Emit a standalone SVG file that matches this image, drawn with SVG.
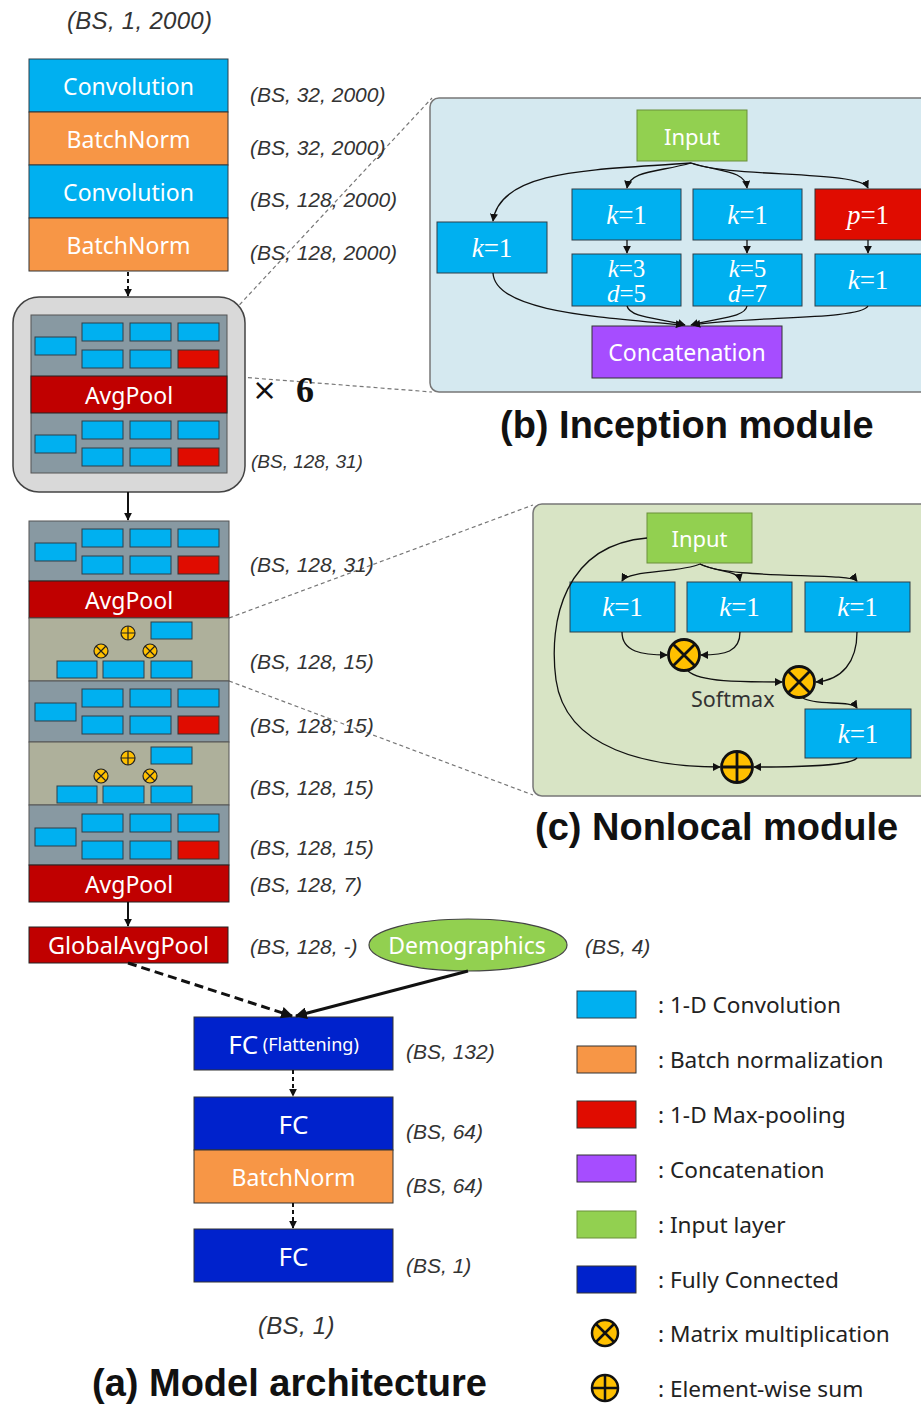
<svg xmlns="http://www.w3.org/2000/svg" xmlns:xlink="http://www.w3.org/1999/xlink" width="921" height="1404" viewBox="0 0 921 1404">
  <style>
    .lbl { font-family: "Liberation Sans", Arial, sans-serif; font-style: italic; font-size: 21px; fill: #333; }
    .lblBig { font-size: 24px; letter-spacing: 0.3px; }
    .lblSm { font-size: 19px; }
    .bt { font-family: "Noto Sans", "Liberation Sans", sans-serif; fill: #fff; text-anchor: middle; dominant-baseline: central; font-size: 23px; }
    .kt { font-family: "Liberation Serif", serif; fill: #fff; text-anchor: middle; dominant-baseline: central; font-size: 27px; }
    .kt2 { font-size: 25px; }
    .title { font-family: "Liberation Sans", Arial, sans-serif; font-weight: bold; font-size: 38px; fill: #111; }
    .leg { font-family: "Noto Sans", "Liberation Sans", sans-serif; font-size: 22.6px; fill: #222; dominant-baseline: central; }
    .conv { fill: #00b0f0; stroke: #2e3f48; stroke-width: 1; }
    .bn { fill: #f79646; stroke: #333; stroke-width: 1; }
    .mp { fill: #e00c00; stroke: #333; stroke-width: 1; }
    .avg { fill: #c00000; stroke: #222; stroke-width: 1; }
    .fc { fill: #0022cc; stroke: #333; stroke-width: 1; }
    .inp { fill: #92d050; stroke: #6a8f3a; stroke-width: 1; }
    .cat { fill: #a64dff; stroke: #333; stroke-width: 1; }
    .incbg { fill: #8899a2; stroke: #555; stroke-width: 1; }
    .nlbg { fill: #aeb09b; stroke: #555; stroke-width: 1; }
    .op { fill: #ffc000; stroke: #111; stroke-width: 2.8; }
    .opx { stroke: #111; stroke-width: 2.8; }
    .opL { fill: #ffc000; stroke: #111; stroke-width: 2.5; }
    .opLx { stroke: #111; stroke-width: 2.5; }
    .opS { fill: #ffc000; stroke: #222; stroke-width: 1.2; }
    .opSx { stroke: #222; stroke-width: 1.2; }
    .wire { fill: none; stroke: #111; stroke-width: 1.3; }
    .zoom { fill: none; stroke: #777; stroke-width: 1.2; stroke-dasharray: 4 3; }
  </style>
  <defs>
    <marker id="ah" viewBox="0 0 10 10" refX="9" refY="5" markerWidth="8" markerHeight="8" markerUnits="userSpaceOnUse" orient="auto">
      <path d="M0,0 L10,5 L0,10 z" fill="#111"/>
    </marker>
    <marker id="ahBig" viewBox="0 0 10 10" refX="9" refY="5" markerWidth="12" markerHeight="12" markerUnits="userSpaceOnUse" orient="auto">
      <path d="M0,0 L10,5 L0,10 z" fill="#111"/>
    </marker>
    <!-- small inception glyph: three branches of convolutions + max-pool -->
    <g id="incBlocks">
      <rect class="conv" x="35" y="22" width="41" height="18"/>
      <rect class="conv" x="82" y="8" width="41" height="18"/>
      <rect class="conv" x="130" y="8" width="41" height="18"/>
      <rect class="conv" x="178" y="8" width="41" height="18"/>
      <rect class="conv" x="82" y="35" width="41" height="18"/>
      <rect class="conv" x="130" y="35" width="41" height="18"/>
      <rect class="mp" x="178" y="35" width="41" height="18"/>
    </g>
    <!-- small nonlocal glyph -->
    <g id="nlBlocks">
      <rect class="conv" x="151" y="4" width="41" height="17"/>
      <rect class="conv" x="57" y="43" width="40" height="17"/>
      <rect class="conv" x="103" y="43" width="41" height="17"/>
      <rect class="conv" x="151" y="43" width="41" height="17"/>
      <circle class="opS" cx="128" cy="15" r="7"/>
      <path class="opSx" d="M121,15 H135 M128,8 V22"/>
      <circle class="opS" cx="101" cy="33" r="7"/>
      <path class="opSx" d="M96,28 L106,38 M106,28 L96,38"/>
      <circle class="opS" cx="150" cy="33" r="7"/>
      <path class="opSx" d="M145,28 L155,38 M155,28 L145,38"/>
    </g>
  </defs>

  <rect x="0" y="0" width="921" height="1404" fill="#fff"/>

  <!-- zoom guide lines -->
  <g id="guides">
    <line class="zoom" x1="230" y1="315" x2="432" y2="98"/>
    <line class="zoom" x1="227" y1="376" x2="432" y2="392"/>
    <line class="zoom" x1="229" y1="618" x2="533" y2="505"/>
    <line class="zoom" x1="229" y1="681" x2="533" y2="795"/>
  </g>

  <!-- (a) model architecture: stem -->
  <g id="conv1"><rect class="conv" x="29" y="59" width="199" height="53"/><text class="bt" x="128.5" y="86">Convolution</text></g>
  <g id="bn1"><rect class="bn" x="29" y="112" width="199" height="53"/><text class="bt" x="128.5" y="139">BatchNorm</text></g>
  <g id="conv2"><rect class="conv" x="29" y="165" width="199" height="53"/><text class="bt" x="128.5" y="192">Convolution</text></g>
  <g id="bn2"><rect class="bn" x="29" y="218" width="199" height="53"/><text class="bt" x="128.5" y="245">BatchNorm</text></g>

  <!-- repeated block x6 -->
  <g id="repeat6">
    <rect x="13" y="297" width="232" height="195" rx="26" fill="#d9d9d9" stroke="#444" stroke-width="1.5"/>
    <rect class="incbg" x="31" y="315" width="196" height="158"/>
    <use xlink:href="#incBlocks" href="#incBlocks" transform="translate(0,315)"/>
    <rect class="avg" x="31" y="376" width="196" height="37"/>
    <text class="bt" x="129" y="395">AvgPool</text>
    <use xlink:href="#incBlocks" href="#incBlocks" transform="translate(0,413)"/>
    <text x="252" y="400" font-family="DejaVu Sans, sans-serif" font-size="30" fill="#111">×</text>
    <text x="296" y="402" font-family="Liberation Serif, serif" font-weight="bold" font-size="36" fill="#111">6</text>
  </g>

  <!-- tail of the feature extractor -->
  <g id="inc7"><rect class="incbg" x="29" y="521" width="200" height="60"/><use xlink:href="#incBlocks" href="#incBlocks" transform="translate(0,521)"/></g>
  <g id="avg1"><rect class="avg" x="29" y="581" width="200" height="37"/><text class="bt" x="129" y="600">AvgPool</text></g>
  <g id="nl1"><rect class="nlbg" x="29" y="618" width="200" height="63"/><use xlink:href="#nlBlocks" href="#nlBlocks" transform="translate(0,618)"/></g>
  <g id="inc8"><rect class="incbg" x="29" y="681" width="200" height="61"/><use xlink:href="#incBlocks" href="#incBlocks" transform="translate(0,681)"/></g>
  <g id="nl2"><rect class="nlbg" x="29" y="742" width="200" height="63"/><use xlink:href="#nlBlocks" href="#nlBlocks" transform="translate(0,743)"/></g>
  <g id="inc9"><rect class="incbg" x="29" y="805" width="200" height="60"/><use xlink:href="#incBlocks" href="#incBlocks" transform="translate(0,806)"/></g>
  <g id="avg2"><rect class="avg" x="29" y="865" width="200" height="37"/><text class="bt" x="129" y="884">AvgPool</text></g>

  <g id="gap"><rect class="avg" x="29" y="927" width="199" height="36"/><text class="bt" x="128.5" y="945" style="font-size:23.5px">GlobalAvgPool</text></g>
  <g id="demographics"><ellipse cx="468" cy="945" rx="99" ry="26" fill="#92d050" stroke="#444" stroke-width="1.2"/><text class="bt" x="467" y="945">Demographics</text></g>

  <g id="fc1"><rect class="fc" x="194" y="1017" width="199" height="53"/><text class="bt" x="293.5" y="1044"><tspan style="font-size:26px">FC</tspan><tspan style="font-size:18px"> (Flattening)</tspan></text></g>
  <g id="fc2"><rect class="fc" x="194" y="1097" width="199" height="53"/><text class="bt" x="293.5" y="1124" style="font-size:26px">FC</text></g>
  <g id="bn3"><rect class="bn" x="194" y="1150" width="199" height="53"/><text class="bt" x="293.5" y="1177">BatchNorm</text></g>
  <g id="fc3"><rect class="fc" x="194" y="1229" width="199" height="53"/><text class="bt" x="293.5" y="1256" style="font-size:26px">FC</text></g>

  <!-- tensor shapes -->
  <g id="shapes">
    <text class="lbl lblBig" x="67" y="29">(BS, 1, 2000)</text>
    <text class="lbl" x="250" y="102">(BS, 32, 2000)</text>
    <text class="lbl" x="250" y="155">(BS, 32, 2000)</text>
    <text class="lbl" x="250" y="207">(BS, 128, 2000)</text>
    <text class="lbl" x="250" y="260">(BS, 128, 2000)</text>
    <text class="lbl lblSm" x="251" y="468">(BS, 128, 31)</text>
    <text class="lbl" x="250" y="572">(BS, 128, 31)</text>
    <text class="lbl" x="250" y="669">(BS, 128, 15)</text>
    <text class="lbl" x="250" y="733">(BS, 128, 15)</text>
    <text class="lbl" x="250" y="795">(BS, 128, 15)</text>
    <text class="lbl" x="250" y="855">(BS, 128, 15)</text>
    <text class="lbl" x="250" y="892">(BS, 128, 7)</text>
    <text class="lbl" x="250" y="954">(BS, 128, -)</text>
    <text class="lbl" x="585" y="954">(BS, 4)</text>
    <text class="lbl" x="406" y="1059">(BS, 132)</text>
    <text class="lbl" x="406" y="1139">(BS, 64)</text>
    <text class="lbl" x="406" y="1193">(BS, 64)</text>
    <text class="lbl" x="406" y="1273">(BS, 1)</text>
    <text class="lbl lblBig" x="258" y="1334">(BS, 1)</text>
  </g>

  <!-- (b) inception module -->
  <g id="inception">
    <rect x="430" y="98" width="510" height="294" rx="9" fill="#d5e9f0" stroke="#777" stroke-width="1.5"/>
    <g id="inc-input"><rect class="inp" x="637" y="110" width="110" height="51"/><text class="bt" x="692" y="135.5" style="font-size:22px">Input</text></g>
    <g id="inc-b1"><rect class="conv" x="437" y="222" width="110" height="51"/><text class="kt" x="492" y="247.5"><tspan font-style="italic">k</tspan>=1</text></g>
    <g id="inc-b2a"><rect class="conv" x="572" y="189" width="109" height="51"/><text class="kt" x="626.5" y="214.5"><tspan font-style="italic">k</tspan>=1</text></g>
    <g id="inc-b3a"><rect class="conv" x="693" y="189" width="109" height="51"/><text class="kt" x="747.5" y="214.5"><tspan font-style="italic">k</tspan>=1</text></g>
    <g id="inc-b4a"><rect class="mp" x="815" y="189" width="115" height="51"/><text class="kt" x="868" y="214.5"><tspan font-style="italic">p</tspan>=1</text></g>
    <g id="inc-b2b"><rect class="conv" x="572" y="254" width="109" height="52"/><text class="kt kt2" x="626.5" y="268"><tspan font-style="italic">k</tspan>=3</text><text class="kt kt2" x="626.5" y="293"><tspan font-style="italic">d</tspan>=5</text></g>
    <g id="inc-b3b"><rect class="conv" x="693" y="254" width="109" height="52"/><text class="kt kt2" x="747.5" y="268"><tspan font-style="italic">k</tspan>=5</text><text class="kt kt2" x="747.5" y="293"><tspan font-style="italic">d</tspan>=7</text></g>
    <g id="inc-b4b"><rect class="conv" x="815" y="254" width="115" height="52"/><text class="kt" x="868" y="280"><tspan font-style="italic">k</tspan>=1</text></g>
    <g id="inc-concat"><rect class="cat" x="592" y="326" width="190" height="52"/><text class="bt" x="687" y="352">Concatenation</text></g>
  </g>

  <!-- (c) nonlocal module -->
  <g id="nonlocal">
    <rect x="533" y="504" width="400" height="292" rx="9" fill="#d8e4c5" stroke="#777" stroke-width="1.5"/>
    <g id="nl-input"><rect class="inp" x="647" y="513" width="105" height="50"/><text class="bt" x="699.5" y="538" style="font-size:22px">Input</text></g>
    <g id="nl-q"><rect class="conv" x="570" y="582" width="105" height="50"/><text class="kt" x="622.5" y="607"><tspan font-style="italic">k</tspan>=1</text></g>
    <g id="nl-k"><rect class="conv" x="687" y="582" width="105" height="50"/><text class="kt" x="739.5" y="607"><tspan font-style="italic">k</tspan>=1</text></g>
    <g id="nl-v"><rect class="conv" x="805" y="582" width="105" height="50"/><text class="kt" x="857.5" y="607"><tspan font-style="italic">k</tspan>=1</text></g>
    <g id="nl-out"><rect class="conv" x="805" y="709" width="106" height="49"/><text class="kt" x="858" y="733.5"><tspan font-style="italic">k</tspan>=1</text></g>
    <g id="nl-mul1"><circle class="op" cx="684" cy="655" r="15.5"/><path class="opx" d="M673,644 L695,666 M695,644 L673,666"/></g>
    <g id="nl-mul2"><circle class="op" cx="799" cy="682" r="15.5"/><path class="opx" d="M788,671 L810,693 M810,671 L788,693"/></g>
    <g id="nl-sum"><circle class="op" cx="737" cy="767" r="15.5"/><path class="opx" d="M721.5,767 H752.5 M737,751.5 V782.5"/></g>
    <text x="691" y="698" font-family="Noto Sans, Liberation Sans, sans-serif" font-size="21.5" fill="#333" dominant-baseline="central">Softmax</text>
  </g>

  <!-- connectors -->
  <g id="connectors">
    <!-- main trunk -->
    <line x1="128" y1="272" x2="128" y2="296" stroke="#111" stroke-width="2" stroke-dasharray="4 3" marker-end="url(#ah)"/>
    <line x1="128" y1="492" x2="128" y2="520" stroke="#111" stroke-width="2" marker-end="url(#ah)"/>
    <line x1="128" y1="902" x2="128" y2="926" stroke="#111" stroke-width="2" marker-end="url(#ah)"/>
    <line x1="128" y1="963" x2="292" y2="1016" stroke="#111" stroke-width="3" stroke-dasharray="9 5" marker-end="url(#ahBig)"/>
    <line x1="468" y1="971" x2="296" y2="1016" stroke="#111" stroke-width="3" marker-end="url(#ahBig)"/>
    <line x1="293" y1="1070" x2="293" y2="1096" stroke="#111" stroke-width="2" stroke-dasharray="4 3" marker-end="url(#ah)"/>
    <line x1="293" y1="1203" x2="293" y2="1228" stroke="#111" stroke-width="2" stroke-dasharray="4 3" marker-end="url(#ah)"/>

    <!-- inception module wiring -->
    <path class="wire" d="M691,163 C600,170 500,168 493,221" marker-end="url(#ah)"/>
    <path class="wire" d="M691,163 C660,172 630,170 627,188" marker-end="url(#ah)"/>
    <path class="wire" d="M691,163 C720,172 745,170 747,188" marker-end="url(#ah)"/>
    <path class="wire" d="M691,163 C730,178 860,170 868,188" marker-end="url(#ah)"/>
    <path class="wire" d="M627,240 V253" marker-end="url(#ah)"/>
    <path class="wire" d="M747,240 V253" marker-end="url(#ah)"/>
    <path class="wire" d="M868,240 V253" marker-end="url(#ah)"/>
    <path class="wire" d="M493,273 C495,312 600,317 683,325" marker-end="url(#ah)"/>
    <path class="wire" d="M627,306 C630,318 660,318 685,325" marker-end="url(#ah)"/>
    <path class="wire" d="M747,306 C745,318 715,318 691,325" marker-end="url(#ah)"/>
    <path class="wire" d="M868,306 C860,320 750,316 693,325" marker-end="url(#ah)"/>

    <!-- nonlocal module wiring -->
    <path class="wire" d="M700,564 C680,573 628,570 622,581" marker-end="url(#ah)"/>
    <path class="wire" d="M700,564 C720,573 738,570 740,581" marker-end="url(#ah)"/>
    <path class="wire" d="M700,564 C730,580 850,572 857,581" marker-end="url(#ah)"/>
    <path class="wire" d="M622,632 C622,652 642,655 667,655" marker-end="url(#ah)"/>
    <path class="wire" d="M740,632 C740,652 725,655 701,655" marker-end="url(#ah)"/>
    <path class="wire" d="M688,671 C700,682 740,682 782,682" marker-end="url(#ah)"/>
    <path class="wire" d="M857,632 C857,662 842,680 816,682" marker-end="url(#ah)"/>
    <path class="wire" d="M803,698 C815,706 852,700 857,708" marker-end="url(#ah)"/>
    <path class="wire" d="M857,758 C850,766 800,767 754,767" marker-end="url(#ah)"/>
    <path class="wire" d="M647,538 C565,545 548,620 556,680 C566,750 650,767 720,767" marker-end="url(#ah)"/>
  </g>

  <!-- panel titles -->
  <text class="title" x="500" y="438">(b) Inception module</text>
  <text class="title" x="535" y="840">(c) Nonlocal module</text>
  <text class="title" x="92" y="1396">(a) Model architecture</text>

  <!-- legend -->
  <g id="legend">
    <rect class="conv" x="577" y="991" width="59" height="27"/>
    <text class="leg" x="658" y="1004">: 1-D Convolution</text>
    <rect class="bn" x="577" y="1046" width="59" height="27"/>
    <text class="leg" x="658" y="1059">: Batch normalization</text>
    <rect class="mp" x="577" y="1101" width="59" height="27"/>
    <text class="leg" x="658" y="1114">: 1-D Max-pooling</text>
    <rect class="cat" x="577" y="1155" width="59" height="27"/>
    <text class="leg" x="658" y="1169">: Concatenation</text>
    <rect class="inp" x="577" y="1211" width="59" height="27"/>
    <text class="leg" x="658" y="1224">: Input layer</text>
    <rect class="fc" x="577" y="1266" width="59" height="27"/>
    <text class="leg" x="658" y="1279">: Fully Connected</text>
    <circle class="opL" cx="605" cy="1333" r="13"/>
    <path class="opLx" d="M596,1324 L614,1342 M614,1324 L596,1342"/>
    <text class="leg" x="658" y="1333">: Matrix multiplication</text>
    <circle class="opL" cx="605" cy="1388" r="13"/>
    <path class="opLx" d="M592,1388 H618 M605,1375 V1401"/>
    <text class="leg" x="658" y="1388">: Element-wise sum</text>
  </g>
</svg>
